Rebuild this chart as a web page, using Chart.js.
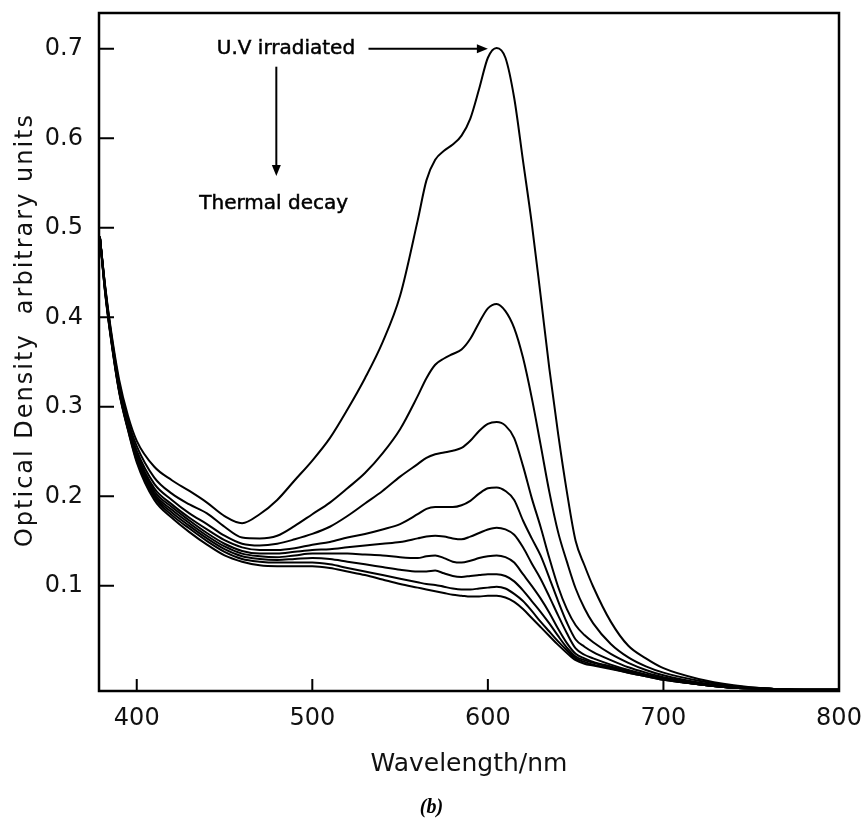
<!DOCTYPE html>
<html>
<head>
<meta charset="utf-8">
<script src="https://cdn.jsdelivr.net/npm/chart.js@4.4.1/dist/chart.umd.min.js"></script>
<style>
    html, body { margin: 0; padding: 0; background: #fff; }
    #wrap { width: 863px; height: 825px; }
</style>
</head>
<body>
<div id="wrap"><canvas id="spectra" width="863" height="825"></canvas></div>
<script>
// Wavelength grid (nm) shared by every spectrum
const wavelengths = [379, 382, 385, 390, 395, 400, 410, 420, 430, 440, 450, 460, 470, 480, 490,
    500, 510, 520, 530, 540, 550, 560, 565, 570, 575, 580, 585, 590, 595, 600, 605, 610, 615,
    620, 625, 630, 635, 640, 645, 650, 655, 660, 670, 680, 690, 700, 720, 740, 760, 780, 800];

// Optical density, from just after U.V irradiation (od1) down the thermal decay (od9)
const od1 = [0.49, 0.435, 0.39, 0.33, 0.29, 0.262, 0.233, 0.218, 0.206, 0.193, 0.178, 0.170, 0.180, 0.196, 0.218,
    0.240, 0.265, 0.297, 0.332, 0.372, 0.424, 0.508, 0.553, 0.576, 0.586, 0.593, 0.603, 0.622, 0.655, 0.690, 0.701, 0.690, 0.645,
    0.575, 0.505, 0.425, 0.343, 0.270, 0.205, 0.150, 0.123, 0.099, 0.060, 0.033, 0.019, 0.008, -0.004, -0.011, -0.015, -0.016, -0.016];
const od2 = [0.49, 0.434, 0.388, 0.326, 0.285, 0.256, 0.221, 0.203, 0.191, 0.181, 0.166, 0.154, 0.153, 0.156, 0.167,
    0.180, 0.193, 0.209, 0.226, 0.248, 0.275, 0.312, 0.332, 0.347, 0.354, 0.359, 0.364, 0.376, 0.394, 0.410, 0.415, 0.407, 0.388,
    0.355, 0.310, 0.258, 0.205, 0.160, 0.127, 0.097, 0.075, 0.058, 0.035, 0.020, 0.010, 0.003, -0.006, -0.012, -0.015, -0.016, -0.016];
const od3 = [0.49, 0.433, 0.386, 0.322, 0.281, 0.251, 0.214, 0.196, 0.181, 0.169, 0.156, 0.147, 0.145, 0.147, 0.152,
    0.158, 0.166, 0.178, 0.192, 0.206, 0.222, 0.236, 0.243, 0.247, 0.249, 0.251, 0.254, 0.262, 0.273, 0.281, 0.283, 0.279, 0.265,
    0.234, 0.198, 0.166, 0.131, 0.099, 0.074, 0.056, 0.045, 0.037, 0.024, 0.014, 0.006, 0.000, -0.008, -0.013, -0.015, -0.016, -0.016];
const od4 = [0.49, 0.432, 0.385, 0.321, 0.279, 0.248, 0.209, 0.191, 0.176, 0.163, 0.151, 0.143, 0.140, 0.140, 0.142,
    0.146, 0.149, 0.154, 0.158, 0.163, 0.169, 0.180, 0.186, 0.188, 0.188, 0.188, 0.190, 0.195, 0.203, 0.209, 0.210, 0.206, 0.196,
    0.173, 0.153, 0.134, 0.109, 0.083, 0.059, 0.040, 0.032, 0.026, 0.017, 0.009, 0.003, -0.002, -0.009, -0.014, -0.015, -0.016, -0.016];
const od5 = [0.49, 0.431, 0.384, 0.320, 0.278, 0.246, 0.206, 0.188, 0.173, 0.159, 0.147, 0.139, 0.136, 0.136, 0.138,
    0.140, 0.141, 0.143, 0.145, 0.147, 0.149, 0.153, 0.155, 0.156, 0.155, 0.153, 0.152, 0.155, 0.159, 0.163, 0.165, 0.163, 0.157,
    0.143, 0.125, 0.108, 0.088, 0.067, 0.047, 0.030, 0.023, 0.019, 0.012, 0.006, 0.001, -0.003, -0.010, -0.014, -0.015, -0.016, -0.016];
const od6 = [0.49, 0.430, 0.383, 0.319, 0.277, 0.244, 0.203, 0.185, 0.170, 0.156, 0.144, 0.136, 0.133, 0.132, 0.134,
    0.136, 0.136, 0.136, 0.135, 0.134, 0.132, 0.131, 0.133, 0.134, 0.131, 0.127, 0.126, 0.128, 0.131, 0.133, 0.134, 0.132, 0.126,
    0.113, 0.100, 0.086, 0.070, 0.052, 0.036, 0.024, 0.019, 0.015, 0.010, 0.005, 0.000, -0.004, -0.010, -0.014, -0.015, -0.016, -0.016];
const od7 = [0.49, 0.429, 0.382, 0.318, 0.276, 0.242, 0.201, 0.182, 0.167, 0.153, 0.141, 0.133, 0.130, 0.129, 0.130,
    0.131, 0.130, 0.127, 0.124, 0.121, 0.118, 0.116, 0.116, 0.117, 0.114, 0.111, 0.110, 0.111, 0.112, 0.113, 0.113, 0.111, 0.105,
    0.095, 0.083, 0.071, 0.058, 0.044, 0.031, 0.021, 0.017, 0.014, 0.009, 0.004, 0.000, -0.004, -0.010, -0.014, -0.015, -0.016, -0.016];
const od8 = [0.49, 0.428, 0.381, 0.317, 0.275, 0.240, 0.199, 0.179, 0.164, 0.150, 0.138, 0.130, 0.127, 0.126, 0.126,
    0.126, 0.124, 0.120, 0.116, 0.112, 0.108, 0.104, 0.102, 0.101, 0.099, 0.097, 0.096, 0.096, 0.097, 0.098, 0.099, 0.097, 0.091,
    0.083, 0.072, 0.060, 0.049, 0.038, 0.028, 0.019, 0.015, 0.012, 0.008, 0.003, -0.001, -0.005, -0.010, -0.014, -0.015, -0.016, -0.016];
const od9 = [0.49, 0.427, 0.380, 0.316, 0.274, 0.238, 0.196, 0.176, 0.160, 0.146, 0.134, 0.127, 0.123, 0.122, 0.122,
    0.122, 0.120, 0.116, 0.112, 0.107, 0.102, 0.098, 0.096, 0.094, 0.092, 0.090, 0.089, 0.088, 0.088, 0.089, 0.089, 0.087, 0.082,
    0.074, 0.064, 0.054, 0.044, 0.034, 0.025, 0.017, 0.013, 0.011, 0.007, 0.003, -0.001, -0.005, -0.010, -0.014, -0.015, -0.016, -0.016];

const spectra = [od1, od2, od3, od4, od5, od6, od7, od8, od9];

const xTicks = [400, 500, 600, 700, 800];
const yTicks = [0.1, 0.2, 0.3, 0.4, 0.5, 0.6, 0.7];

// Annotation anchors, in data units (nm, OD)
const uvLabel = { text: 'U.V irradiated', x: 485, y: 0.700 };
const uvArrow = { x0: 532, x1: 600, y: 0.700 };
const decayArrow = { x: 479.5, y0: 0.680, y1: 0.558 };
const decayLabel = { text: 'Thermal decay', x: 478, y: 0.527 };

const sansFamily = '"DejaVu Sans", "Open Sans", sans-serif';
const axisFont = { family: sansFamily, size: 24 };
const ink = '#111';

function arrowHead(ctx, x, y, dx, dy) {
    // filled triangle pointing along (dx, dy)
    const len = 11, half = 4.5;
    const px = -dy, py = dx;
    ctx.beginPath();
    ctx.moveTo(x, y);
    ctx.lineTo(x - dx * len + px * half, y - dy * len + py * half);
    ctx.lineTo(x - dx * len - px * half, y - dy * len - py * half);
    ctx.closePath();
    ctx.fill();
}

function note(ctx, text, x, y) {
    ctx.fillText(text, x, y);
    ctx.strokeText(text, x, y); // lettering in the original is a bit heavier
}

// Box frame, inward tick marks, y title, annotations and the (b) caption
const frameAndNotes = {
    id: 'frameAndNotes',
    afterDraw(chart) {
        const { ctx, chartArea: a, scales: { x, y } } = chart;
        ctx.save();
        ctx.strokeStyle = '#000';
        ctx.fillStyle = '#000';
        ctx.lineWidth = 2.5;
        ctx.strokeRect(a.left, a.top, a.right - a.left, a.bottom - a.top);

        ctx.lineWidth = 2;
        ctx.beginPath();
        xTicks.forEach(v => {
            const px = x.getPixelForValue(v);
            ctx.moveTo(px, a.bottom);
            ctx.lineTo(px, a.bottom - 12);
        });
        yTicks.forEach(v => {
            const py = y.getPixelForValue(v);
            ctx.moveTo(a.left, py);
            ctx.lineTo(a.left + 15, py);
        });
        ctx.stroke();

        // y axis title, widely spaced and sitting a little above the middle
        ctx.save();
        ctx.fillStyle = ink;
        ctx.font = '24px ' + sansFamily;
        ctx.letterSpacing = '2px';
        ctx.textAlign = 'center';
        ctx.textBaseline = 'middle';
        ctx.translate(26, 330);
        ctx.rotate(-Math.PI / 2);
        ctx.fillText('Optical Density  arbitrary units', 0, 0);
        ctx.restore();

        // U.V irradiated ---->
        ctx.font = '20px ' + sansFamily;
        ctx.lineWidth = 0.5;
        ctx.textAlign = 'center';
        ctx.textBaseline = 'middle';
        note(ctx, uvLabel.text, x.getPixelForValue(uvLabel.x), y.getPixelForValue(uvLabel.y));
        const ay = y.getPixelForValue(uvArrow.y);
        const ax0 = x.getPixelForValue(uvArrow.x0), ax1 = x.getPixelForValue(uvArrow.x1);
        ctx.lineWidth = 2;
        ctx.beginPath();
        ctx.moveTo(ax0, ay);
        ctx.lineTo(ax1 - 6, ay);
        ctx.stroke();
        arrowHead(ctx, ax1, ay, 1, 0);

        // downward arrow to Thermal decay
        const dx = x.getPixelForValue(decayArrow.x);
        const dy0 = y.getPixelForValue(decayArrow.y0), dy1 = y.getPixelForValue(decayArrow.y1);
        ctx.beginPath();
        ctx.moveTo(dx, dy0);
        ctx.lineTo(dx, dy1 - 6);
        ctx.stroke();
        arrowHead(ctx, dx, dy1, 0, 1);
        ctx.lineWidth = 0.5;
        note(ctx, decayLabel.text, x.getPixelForValue(decayLabel.x), y.getPixelForValue(decayLabel.y));

        // panel caption
        ctx.font = 'italic bold 20px "Liberation Serif", "DejaVu Serif", serif';
        ctx.fillText('(b)', chart.width / 2, 808);
        ctx.restore();
    }
};

// keep the plot box exactly where the layout padding puts it
function noLabelPadding(s) {
    s.paddingTop = 0;
    s.paddingBottom = 0;
    s.paddingLeft = 0;
    s.paddingRight = 0;
}

const ctx = document.getElementById('spectra').getContext('2d');
new Chart(ctx, {
    type: 'scatter',
    data: {
        datasets: spectra.map((vals, i) => ({
            label: 'scan ' + (i + 1),
            data: wavelengths.map((w, j) => ({ x: w, y: vals[j] })),
            showLine: true,
            borderColor: '#000',
            borderWidth: 2,
            pointRadius: 0,
            fill: false,
            cubicInterpolationMode: 'monotone'
        }))
    },
    options: {
        responsive: false,
        animation: false,
        events: [],
        layout: { padding: { top: 13, right: 24, bottom: 40, left: 0 } },
        plugins: {
            legend: { display: false },
            tooltip: { enabled: false }
        },
        scales: {
            x: {
                type: 'linear',
                min: 378.5,
                max: 800,
                afterFit: s => { s.height = 94; noLabelPadding(s); },
                afterBuildTicks: s => { s.ticks = xTicks.map(v => ({ value: v })); },
                grid: { display: false, drawTicks: false },
                border: { display: false },
                ticks: { padding: 13, color: ink, font: axisFont, maxRotation: 0, autoSkip: false },
                title: {
                    display: true,
                    text: 'Wavelength/nm',
                    color: ink,
                    font: { family: sansFamily, size: 25 },
                    padding: { top: 4, bottom: 6 }
                }
            },
            y: {
                type: 'linear',
                min: -0.0175,
                max: 0.74,
                afterFit: s => { s.width = 99; noLabelPadding(s); },
                afterBuildTicks: s => { s.ticks = yTicks.map(v => ({ value: v })); },
                grid: { display: false, drawTicks: false },
                border: { display: false },
                ticks: {
                    padding: 16,
                    color: ink,
                    font: axisFont,
                    callback: v => v.toFixed(1)
                }
            }
        }
    },
    plugins: [frameAndNotes]
});
</script>
</body>
</html>
